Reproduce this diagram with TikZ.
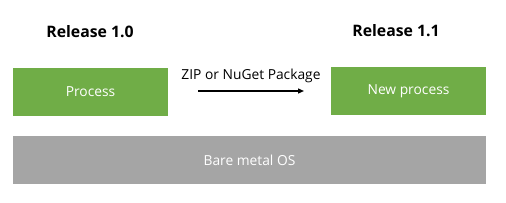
\documentclass[tikz,border=0pt]{standalone}
\usepackage{fontspec}
\setmainfont{Open Sans}
\usetikzlibrary{arrows.meta}
\definecolor{boxgreen}{HTML}{70AD47}
\definecolor{boxgray}{HTML}{A5A5A5}
\begin{document}
\begin{tikzpicture}[x=1pt,y=-1pt,
  greenbox/.style={fill=boxgreen,draw=none,text=white,inner sep=0pt,minimum width=155pt,minimum height=48pt,font=\fontsize{13.8}{16}\selectfont},
  graybox/.style={fill=boxgray,draw=none,text=white,inner sep=0pt,minimum width=473pt,minimum height=48pt,font=\fontsize{13.8}{16}\selectfont},
  title/.style={font=\bfseries\fontsize{15.8}{18}\selectfont},
  lbl/.style={font=\fontsize{13.8}{16}\selectfont}]
\useasboundingbox (0,0) rectangle (506,203);
\node[greenbox] (p) at (90.5,92) {Process};
\node[greenbox] (np) at (408.5,91) {New process};
\node[graybox] (os) at (249.5,160) {Bare metal OS};
\node[title] (r0) at (90,32) {Release 1.0};
\node[title] (r1) at (396,31) {Release 1.1};
\coordinate (a0) at (198,91);
\coordinate (a1) at (304,91);
\draw[line width=1.3pt,-{Triangle[length=6pt,width=5pt]}] (a0) -- (a1);
\node[lbl] (zl) at (251,76) {ZIP or NuGet Package};
\end{tikzpicture}
\end{document}
